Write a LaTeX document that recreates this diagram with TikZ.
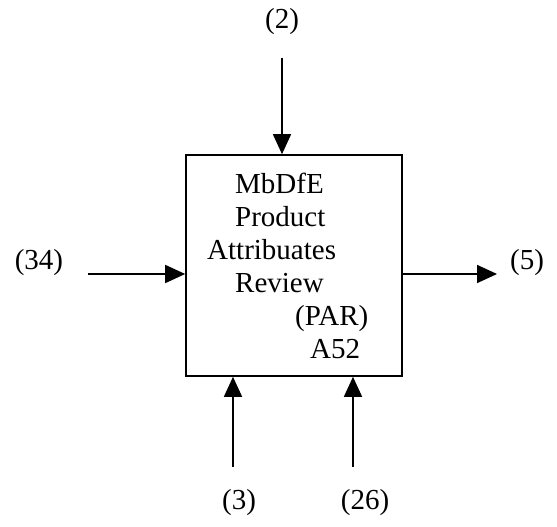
\documentclass[tikz,border=0pt]{standalone}
\usepackage{fontspec}
\setmainfont{Liberation Serif}
\usetikzlibrary{arrows.meta}

\begin{document}
\begin{tikzpicture}[
    x=1pt, y=-1pt,
    funcBox/.style={
        rectangle, draw=black, line width=1.6pt,
        minimum width=216pt, minimum height=221pt, inner sep=0pt
    },
    boxText/.style={
        font=\fontsize{29}{33}\selectfont, align=left,
        anchor=north west, inner sep=0pt
    },
    flowArrow/.style={
        -{Triangle[length=20pt, width=18pt]}, line width=1.6pt, draw=black
    },
    flowLabel/.style={
        font=\fontsize{29}{33}\selectfont, inner sep=0pt
    }
]
    \useasboundingbox (0,0) rectangle (557,527);

    % Activity box
    \node[funcBox] (actPar) at (294, 265.5) {};
    \node[boxText] (actText) at (207, 173) {
        \hspace*{28pt}MbDfE\\
        \hspace*{28pt}Product\\
        Attribuates\\
        \hspace*{28pt}Review\\
        \hspace*{88pt}(PAR)\\
        \hspace*{103pt}A52
    };

    % Free ends of the arrows
    \coordinate (ctrlTop) at (282, 58);
    \coordinate (inLeft) at (88, 274);
    \coordinate (outRight) at (497, 274);
    \coordinate (mechA) at (233, 467);
    \coordinate (mechB) at (353, 467);

    % Labels
    \node[flowLabel] (lblTop) at (282, 22) {(2)};
    \node[flowLabel] (lblLeft) at (39, 263) {(34)};
    \node[flowLabel] (lblRight) at (527, 263) {(5)};
    \node[flowLabel] (lblMechA) at (239, 503) {(3)};
    \node[flowLabel] (lblMechB) at (365, 503) {(26)};

    % Arrows
    \draw[flowArrow] (ctrlTop) -- (ctrlTop |- actPar.north);
    \draw[flowArrow] (inLeft) -- (inLeft -| actPar.west);
    \draw[flowArrow] (outRight -| actPar.east) -- (outRight);
    \draw[flowArrow] (mechA) -- (mechA |- actPar.south);
    \draw[flowArrow] (mechB) -- (mechB |- actPar.south);

\end{tikzpicture}
\end{document}
